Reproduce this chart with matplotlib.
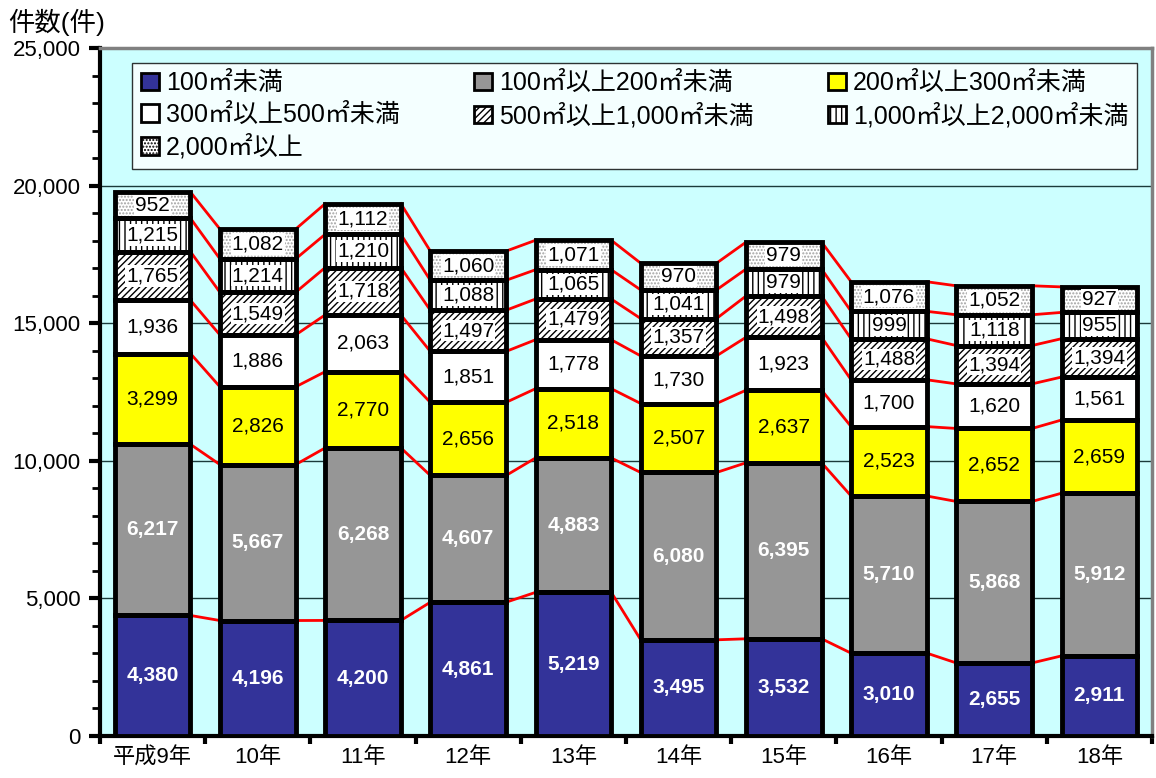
import matplotlib
matplotlib.use('Agg')
import matplotlib.pyplot as plt
import numpy as np
from matplotlib.patches import Patch
from matplotlib.ticker import MultipleLocator, FuncFormatter

plt.rcParams['font.family'] = ['Liberation Sans', 'Noto Sans CJK JP']

# データ
years = ['平成9年', '10年', '11年', '12年', '13年', '14年', '15年', '16年', '17年', '18年']
series_names = ['100㎡未満', '100㎡以上200㎡未満', '200㎡以上300㎡未満', '300㎡以上500㎡未満',
                '500㎡以上1,000㎡未満', '1,000㎡以上2,000㎡未満', '2,000㎡以上']
s1 = [4380, 4196, 4200, 4861, 5219, 3495, 3532, 3010, 2655, 2911]
s2 = [6217, 5667, 6268, 4607, 4883, 6080, 6395, 5710, 5868, 5912]
s3 = [3299, 2826, 2770, 2656, 2518, 2507, 2637, 2523, 2652, 2659]
s4 = [1936, 1886, 2063, 1851, 1778, 1730, 1923, 1700, 1620, 1561]
s5 = [1765, 1549, 1718, 1497, 1479, 1357, 1498, 1488, 1394, 1394]
s6 = [1215, 1214, 1210, 1088, 1065, 1041, 979, 999, 1118, 955]
s7 = [952, 1082, 1112, 1060, 1071, 970, 979, 1076, 1052, 927]
series = [s1, s2, s3, s4, s5, s6, s7]

colores = ['#333399', '#969696', '#FFFF00', '#FFFFFF', '#FFFFFF', '#FFFFFF', '#FFFFFF']
hatches = [None, None, None, None, '/////', '|||', '.....']
hatch_cols = [None, None, None, None, 'black', 'black', '#A0A0A0']
text_cols = ['white', 'white', 'black', 'black', 'black', 'black', 'black']

fig = plt.figure(figsize=(11.56, 7.78), dpi=100)
ax = fig.add_axes([100 / 1156, 42 / 778, 1052 / 1156, 688 / 778])
ax.set_facecolor('#CCFFFF')

x = np.arange(len(years))
largura = 0.72
plt.rcParams['hatch.linewidth'] = 1.0

bottom = np.zeros(len(years))
for k, vals in enumerate(series):
    vals = np.array(vals)
    # preenchimento
    ax.bar(x, vals, largura, bottom=bottom, color=colores[k], linewidth=0, zorder=3)
    if hatches[k]:
        ax.bar(x, vals, largura, bottom=bottom, color='none', edgecolor=hatch_cols[k],
               hatch=hatches[k], linewidth=0, zorder=3.5)
    # contorno
    ax.bar(x, vals, largura, bottom=bottom, color='none', edgecolor='black',
           linewidth=3.5, zorder=4)
    for i in range(len(years)):
        yc = bottom[i] + vals[i] / 2
        kw = dict(ha='center', va='center', fontsize=15, color=text_cols[k], zorder=6)
        if k < 2:
            kw['fontweight'] = 'bold'
        if k >= 4:
            kw['bbox'] = dict(facecolor='white', edgecolor='none', pad=0.8)
        ax.text(x[i], yc, f'{vals[i]:,}', **kw)
    bottom = bottom + vals
    # linhas vermelhas entre as barras
    for i in range(len(years) - 1):
        ax.plot([x[i] + largura / 2, x[i + 1] - largura / 2], [bottom[i], bottom[i + 1]],
                color='red', linewidth=2, zorder=2.5)

ax.set_xlim(-0.5, len(years) - 0.5)
ax.set_ylim(0, 25000)
ax.yaxis.set_major_locator(MultipleLocator(5000))
ax.yaxis.set_minor_locator(MultipleLocator(1000))
ax.yaxis.set_major_formatter(FuncFormatter(lambda v, p: f'{int(v):,}'))
ax.grid(axis='y', which='major', color='#1a3a3a', linewidth=1, zorder=1)
ax.set_axisbelow(True)

ax.set_xticks(x)
ax.set_xticklabels(years, fontsize=16)
ax.set_xticks(np.arange(-0.5, len(years)), minor=True)
ax.tick_params(axis='x', which='major', length=0, pad=8)
ax.tick_params(axis='x', which='minor', length=6, width=3, direction='out')
ax.tick_params(axis='y', which='major', labelsize=16, length=8, width=3, pad=6)
ax.tick_params(axis='y', which='minor', length=6, width=2)

for lado in ['left', 'bottom']:
    ax.spines[lado].set_linewidth(3)
    ax.spines[lado].set_color('black')
for lado in ['top', 'right']:
    ax.spines[lado].set_linewidth(2.5)
    ax.spines[lado].set_color('#808080')

fig.text(8 / 1156, 1 - 22 / 778, '件数(件)', fontsize=19, va='center', ha='left')

# legenda (ordem por linha)
handles = []
for k in range(len(series)):
    handles.append(Patch(facecolor=colores[k], edgecolor='black', linewidth=2,
                         hatch=hatches[k], label=series_names[k]))
ordem = [0, 3, 6, 1, 4, 2, 5]
leg = ax.legend([handles[i] for i in ordem], [series_names[i] for i in ordem],
                loc='upper left', bbox_to_anchor=(0.019, 0, 0.979, 0.997), mode='expand',
                ncol=3, fontsize=18, frameon=True, fancybox=False, edgecolor='black',
                handlelength=0.7, handleheight=0.7, handletextpad=0.3,
                borderpad=0.35, labelspacing=0.3, columnspacing=0.5)
leg.get_frame().set_linewidth(1)
leg.set_zorder(10)

plt.savefig('out.png', dpi=100)
plt.close()
